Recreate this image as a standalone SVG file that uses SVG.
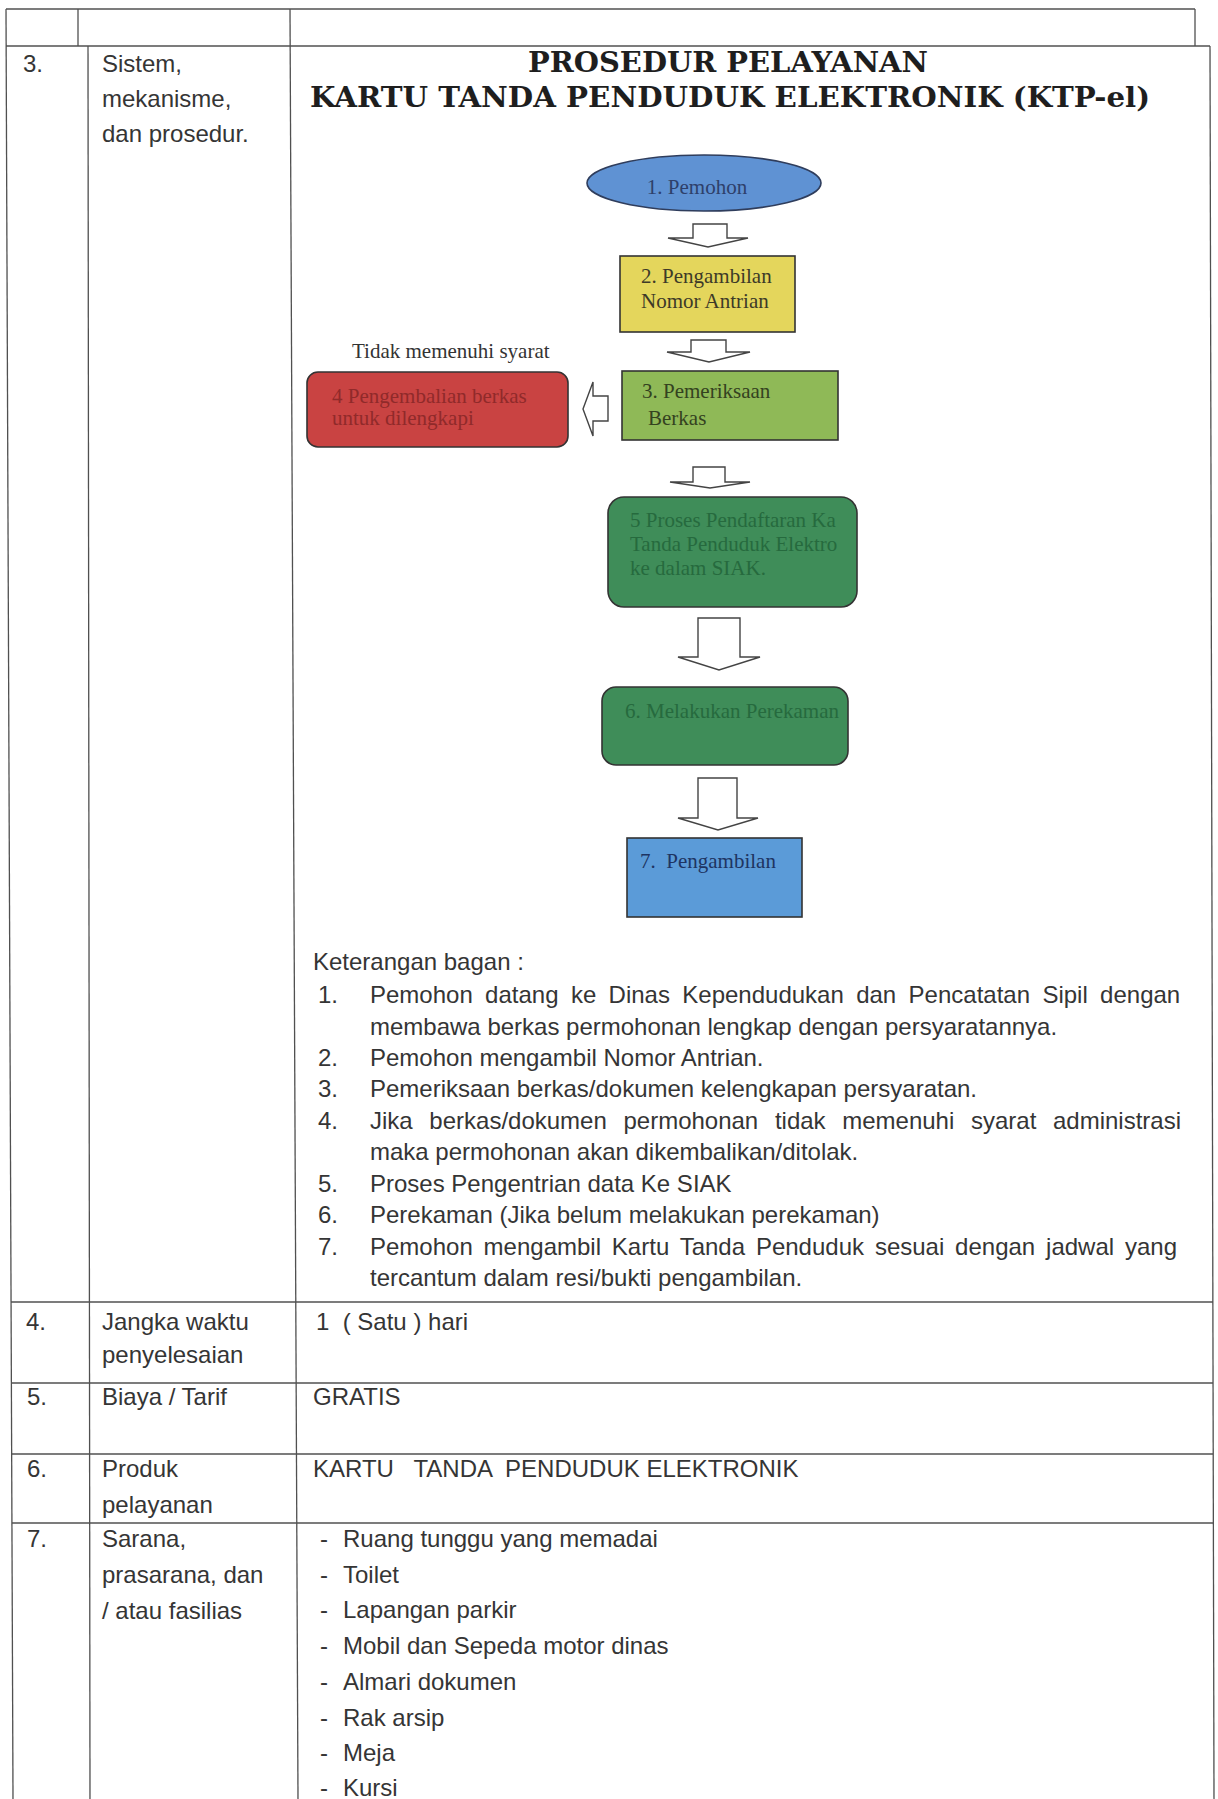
<svg xmlns="http://www.w3.org/2000/svg" width="1218" height="1799" viewBox="0 0 1218 1799">
<style>
.grid{stroke:#505050;stroke-width:1.3;fill:none}
.t{font-family:"Liberation Sans",Arial,sans-serif;font-size:24px;fill:#353535}
.title{font-family:"DejaVu Serif",serif;font-weight:bold;font-size:27px;fill:#1e1e1e;text-anchor:middle}
.n{font-family:"Liberation Serif","Times New Roman",serif;font-size:21px}
.arrow{fill:#ffffff;stroke:#444;stroke-width:1.4;stroke-linejoin:miter}
.box{stroke:#333;stroke-width:1.6}
</style>
<rect width="1218" height="1799" fill="#ffffff"/>
<g id="table">
  <line class="grid" x1="6" y1="9" x2="1195" y2="9"/>
  <line class="grid" x1="6" y1="46" x2="1210" y2="46"/>
  <line class="grid" x1="6" y1="9" x2="13" y2="1799"/>
  <line class="grid" x1="78" y1="9" x2="78" y2="46"/>
  <line class="grid" x1="88" y1="46" x2="90" y2="1799"/>
  <line class="grid" x1="290" y1="9" x2="298" y2="1799"/>
  <line class="grid" x1="1195" y1="9" x2="1195" y2="46"/>
  <line class="grid" x1="1210" y1="46" x2="1214" y2="1799"/>
  <line class="grid" x1="11" y1="1302" x2="1213" y2="1302"/>
  <line class="grid" x1="11" y1="1383" x2="1213" y2="1383"/>
  <line class="grid" x1="11" y1="1454" x2="1213" y2="1454"/>
  <line class="grid" x1="12" y1="1523" x2="1213" y2="1523"/>
</g>
<g id="row3-labels">
  <text class="t" x="23" y="72">3.</text>
  <text class="t" x="102" y="72">Sistem,</text>
  <text class="t" x="102" y="107">mekanisme,</text>
  <text class="t" x="102" y="142">dan prosedur.</text>
</g>
<g id="title">
  <text class="title" x="728" y="72" textLength="400" lengthAdjust="spacingAndGlyphs">PROSEDUR PELAYANAN</text>
  <text class="title" x="730" y="107" textLength="840" lengthAdjust="spacingAndGlyphs">KARTU TANDA PENDUDUK ELEKTRONIK (KTP-el)</text>
</g>
<g id="connectors">
  <path class="arrow" d="M693,224 H727 V238 H748 L708,247 L668,238 H693 Z"/>
  <path class="arrow" d="M691,340 H726 V352 H750 L709,362 L667,352 H691 Z"/>
  <path class="arrow" d="M608,396 V421 H593 V436 L583,409 L593,382 V396 Z"/>
  <path class="arrow" d="M693,467 H725 V482 H750 L710,488 L670,482 H693 Z"/>
  <path class="arrow" d="M698,618 H740 V657 H760 L719,670 L678,657 H698 Z"/>
  <path class="arrow" d="M698,778 H737 V818 H758 L718,830 L678,818 H698 Z"/>
</g>
<g id="node1">
  <ellipse cx="704" cy="183" rx="117" ry="28" fill="#5f92d3" stroke="#2f3d5c" stroke-width="1.6"/>
  <text class="n" x="697" y="194" text-anchor="middle" fill="#2e406a">1. Pemohon</text>
</g>
<g id="node2">
  <rect class="box" x="620" y="256" width="175" height="76" fill="#e4d65c"/>
  <text class="n" x="641" y="283" fill="#3d3a28">2. Pengambilan</text>
  <text class="n" x="641" y="308" fill="#3d3a28">Nomor Antrian</text>
</g>
<g id="node3">
  <rect class="box" x="622" y="371" width="216" height="69" fill="#8fb957"/>
  <text class="n" x="642" y="398" fill="#34421f">3. Pemeriksaan</text>
  <text class="n" x="648" y="425" fill="#34421f">Berkas</text>
</g>
<g id="node4">
  <text class="n" x="352" y="358" font-size="18" fill="#333">Tidak memenuhi syarat</text>
  <rect class="box" x="307" y="372" width="261" height="75" rx="11" fill="#c94342"/>
  <text class="n" x="332" y="403" fill="#902a2a">4 Pengembalian berkas</text>
  <text class="n" x="332" y="425" fill="#902a2a">untuk dilengkapi</text>
</g>
<g id="node5">
  <rect class="box" x="608" y="497" width="249" height="110" rx="16" fill="#3f8d59" stroke="#1f3a28"/>
  <text class="n" x="630" y="527" fill="#266a3e">5 Proses Pendaftaran Ka</text>
  <text class="n" x="630" y="551" fill="#266a3e">Tanda Penduduk Elektro</text>
  <text class="n" x="630" y="575" fill="#266a3e">ke dalam SIAK.</text>
</g>
<g id="node6">
  <rect class="box" x="602" y="687" width="246" height="78" rx="14" fill="#3f8d59" stroke="#1f3a28"/>
  <text class="n" x="625" y="718" fill="#266a3e">6. Melakukan Perekaman</text>
</g>
<g id="node7">
  <rect class="box" x="627" y="838" width="175" height="79" fill="#5b9bd8"/>
  <text class="n" x="640" y="868" fill="#1e3462" xml:space="preserve">7.  Pengambilan</text>
</g>
<g id="keterangan">
  <text class="t" x="313" y="970">Keterangan bagan :</text>
  <text class="t" x="318" y="1003">1.</text>
  <text class="t" x="370" y="1003" word-spacing="5.7">Pemohon datang ke Dinas Kependudukan dan Pencatatan Sipil dengan</text>
  <text class="t" x="370" y="1035">membawa berkas permohonan lengkap dengan persyaratannya.</text>
  <text class="t" x="318" y="1066">2.</text>
  <text class="t" x="370" y="1066">Pemohon mengambil Nomor Antrian.</text>
  <text class="t" x="318" y="1097">3.</text>
  <text class="t" x="370" y="1097">Pemeriksaan berkas/dokumen kelengkapan persyaratan.</text>
  <text class="t" x="318" y="1129">4.</text>
  <text class="t" x="370" y="1129" word-spacing="10">Jika berkas/dokumen permohonan tidak memenuhi syarat administrasi</text>
  <text class="t" x="370" y="1160">maka permohonan akan dikembalikan/ditolak.</text>
  <text class="t" x="318" y="1192">5.</text>
  <text class="t" x="370" y="1192">Proses Pengentrian data Ke SIAK</text>
  <text class="t" x="318" y="1223">6.</text>
  <text class="t" x="370" y="1223">Perekaman (Jika belum melakukan perekaman)</text>
  <text class="t" x="318" y="1255">7.</text>
  <text class="t" x="370" y="1255" word-spacing="4.2">Pemohon mengambil Kartu Tanda Penduduk sesuai dengan jadwal yang</text>
  <text class="t" x="370" y="1286">tercantum dalam resi/bukti pengambilan.</text>
</g>
<g id="row4">
  <text class="t" x="26" y="1330">4.</text>
  <text class="t" x="102" y="1330">Jangka waktu</text>
  <text class="t" x="102" y="1363">penyelesaian</text>
  <text class="t" x="316" y="1330" xml:space="preserve">1  ( Satu ) hari</text>
</g>
<g id="row5">
  <text class="t" x="27" y="1405">5.</text>
  <text class="t" x="102" y="1405">Biaya / Tarif</text>
  <text class="t" x="313" y="1405">GRATIS</text>
</g>
<g id="row6">
  <text class="t" x="27" y="1477">6.</text>
  <text class="t" x="102" y="1477">Produk</text>
  <text class="t" x="102" y="1513">pelayanan</text>
  <text class="t" x="313" y="1477" xml:space="preserve">KARTU   TANDA  PENDUDUK ELEKTRONIK</text>
</g>
<g id="row7">
  <text class="t" x="27" y="1547">7.</text>
  <text class="t" x="102" y="1547">Sarana,</text>
  <text class="t" x="102" y="1583">prasarana, dan</text>
  <text class="t" x="102" y="1619">/ atau fasilias</text>
  <text class="t" x="320" y="1547">-</text><text class="t" x="343" y="1547">Ruang tunggu yang memadai</text>
  <text class="t" x="320" y="1583">-</text><text class="t" x="343" y="1583">Toilet</text>
  <text class="t" x="320" y="1618">-</text><text class="t" x="343" y="1618">Lapangan parkir</text>
  <text class="t" x="320" y="1654">-</text><text class="t" x="343" y="1654">Mobil dan Sepeda motor dinas</text>
  <text class="t" x="320" y="1690">-</text><text class="t" x="343" y="1690">Almari dokumen</text>
  <text class="t" x="320" y="1726">-</text><text class="t" x="343" y="1726">Rak arsip</text>
  <text class="t" x="320" y="1761">-</text><text class="t" x="343" y="1761">Meja</text>
  <text class="t" x="320" y="1796">-</text><text class="t" x="343" y="1796">Kursi</text>
</g>
</svg>
